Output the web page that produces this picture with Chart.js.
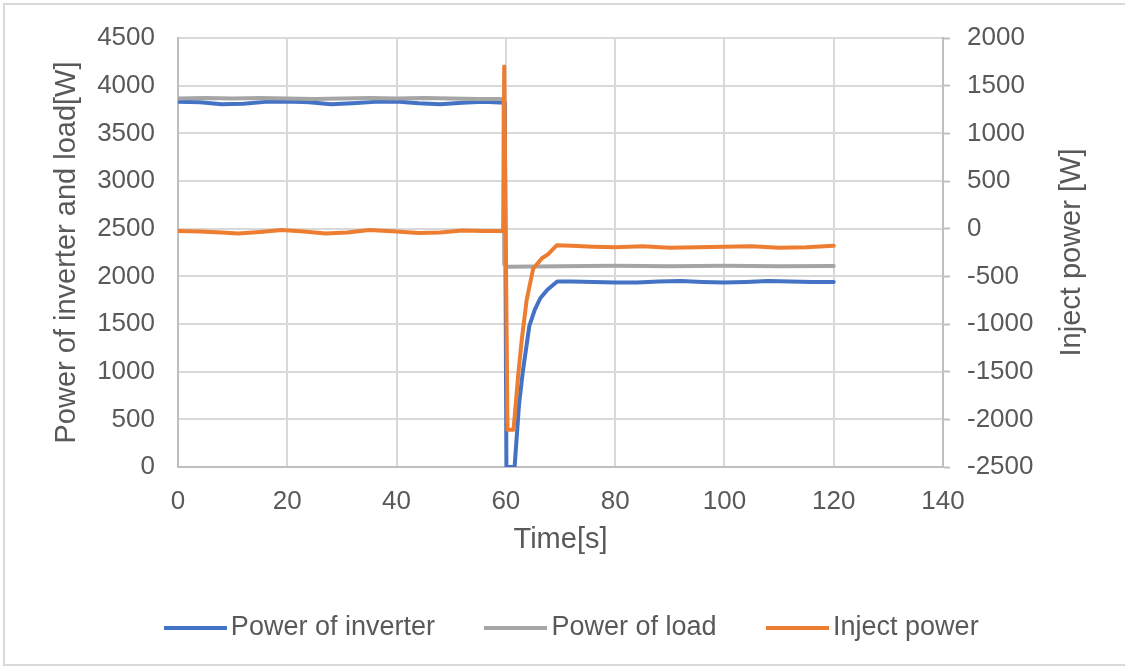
<!DOCTYPE html>
<html lang="en">
<head>
    <meta charset="UTF-8">
    <title>Inverter / load / inject power</title>
    <style>
        body {
            margin: 0;
            padding: 0;
            background-color: #fff;
            overflow: hidden;
        }

        .frame {
            position: absolute;
            left: 3px;
            top: 3px;
            width: 1130px;
            height: 659px;
            border: 2px solid #d9d9d9;
            border-right: none;
        }

        #powerChart {
            display: block;
        }
    </style>
</head>
<body>

    <div class="frame">
        <canvas id="powerChart" width="1120" height="659"></canvas>
    </div>

    <script src="https://cdn.jsdelivr.net/npm/chart.js"></script>

    <script>
        // Power of inverter [W]
        const invTime  = [0, 4, 8, 12, 16, 20, 24, 28, 32, 36, 40, 44, 48, 52, 56, 59.8,
                          60.1, 61.6, 62.4, 63.1, 64.3, 65.3, 66.3, 67.6, 69.4, 72, 76, 80,
                          84, 88, 92, 96, 100, 104, 108, 112, 116, 120];
        const invPower = [3830, 3825, 3805, 3810, 3830, 3835, 3825, 3805, 3815, 3830, 3835, 3815, 3805, 3820, 3830, 3820,
                          0, 0, 650, 1000, 1480, 1650, 1770, 1860, 1945, 1945, 1940, 1935,
                          1935, 1945, 1950, 1940, 1935, 1940, 1950, 1945, 1940, 1940];

        // Power of load [W]
        const loadTime  = [0, 5, 10, 15, 20, 25, 30, 35, 40, 45, 50, 55, 59.6,
                           59.7, 60.3, 70, 80, 90, 100, 110, 120];
        const loadPower = [3865, 3870, 3865, 3870, 3865, 3860, 3865, 3870, 3865, 3870, 3865, 3860, 3860,
                           2125, 2100, 2105, 2110, 2105, 2110, 2105, 2108];

        // Inject power [W] (right axis)
        const injTime  = [0, 4, 8, 11, 15, 19, 23, 27, 31, 35, 40, 44, 48, 52, 56, 59.5,
                          59.7, 60.3, 61.4, 62.3, 62.9, 63.8, 65, 66.6, 67.7, 69.3,
                          72, 76, 80, 85, 90, 95, 100, 105, 110, 115, 120];
        const injPower = [-25, -30, -40, -50, -35, -15, -30, -50, -40, -15, -30, -45, -40, -20, -25, -25,
                          1700, -2110, -2110, -1510, -1170, -750, -420, -310, -270, -175,
                          -180, -190, -195, -185, -200, -195, -190, -185, -200, -195, -180];

        const xTicks = [0, 20, 40, 60, 80, 100, 120, 140];

        const textColor = '#595959';
        const gridColor = '#d9d9d9';
        const axisColor = '#bfbfbf';
        const fontFamily = "'Liberation Sans', Arial, sans-serif";

        function toPoints(xs, ys) {
            return xs.map((x, i) => ({ x: x, y: ys[i] }));
        }

        // legend swatch: a plain stroke that runs close up to the label text
        function legendLine(color) {
            const c = document.createElement('canvas');
            c.width = 63;
            c.height = 4;
            const g = c.getContext('2d');
            g.fillStyle = color;
            g.fillRect(0, 0, c.width, c.height);
            return c;
        }

        // right axis title reads bottom-to-top, so draw it by hand
        const rightTitle = {
            id: 'rightTitle',
            afterDraw(chart) {
                const ctx = chart.ctx;
                const area = chart.chartArea;
                ctx.save();
                ctx.translate(1067, (area.top + area.bottom) / 2);
                ctx.rotate(-Math.PI / 2);
                ctx.font = '29px ' + fontFamily;
                ctx.fillStyle = textColor;
                ctx.textAlign = 'center';
                ctx.textBaseline = 'middle';
                ctx.fillText('Inject power [W]', 0, 0);
                ctx.restore();
            }
        };

        const lineStyle = {
            pointRadius: 0,
            borderWidth: 4,
            tension: 0,
            borderJoinStyle: 'round',
            borderCapStyle: 'round'
        };

        const plainTick = v => String(v);

        const ctx = document.getElementById('powerChart').getContext('2d');
        const chart = new Chart(ctx, {
            type: 'line',
            data: {
                datasets: [
                    Object.assign({
                        label: 'Power of inverter',
                        data: toPoints(invTime, invPower),
                        borderColor: '#4472c4',
                        backgroundColor: '#4472c4',
                        pointStyle: legendLine('#4472c4'),
                        yAxisID: 'y',
                        order: 3
                    }, lineStyle),
                    Object.assign({
                        label: 'Power of load',
                        data: toPoints(loadTime, loadPower),
                        borderColor: '#a5a5a5',
                        backgroundColor: '#a5a5a5',
                        pointStyle: legendLine('#a5a5a5'),
                        yAxisID: 'y',
                        order: 2
                    }, lineStyle),
                    Object.assign({
                        label: 'Inject power',
                        data: toPoints(injTime, injPower),
                        borderColor: '#ed7d31',
                        backgroundColor: '#ed7d31',
                        pointStyle: legendLine('#ed7d31'),
                        yAxisID: 'y2',
                        order: 1
                    }, lineStyle)
                ]
            },
            options: {
                responsive: false,
                devicePixelRatio: 1,
                animation: false,
                layout: {
                    padding: { top: 33, left: 22, right: 0, bottom: 13 }
                },
                plugins: {
                    tooltip: { enabled: false },
                    legend: {
                        position: 'bottom',
                        labels: {
                            usePointStyle: true,
                            pointStyleWidth: 44,
                            padding: 59,
                            color: textColor,
                            font: { family: fontFamily, size: 27 },
                            sort: (a, b) => a.datasetIndex - b.datasetIndex
                        }
                    }
                },
                scales: {
                    x: {
                        type: 'linear',
                        min: 0,
                        max: 140,
                        afterBuildTicks: s => { s.ticks = xTicks.map(v => ({ value: v })); },
                        afterFit: s => { s.height = 88; },
                        grid: { color: gridColor, lineWidth: 2, drawTicks: false },
                        border: { color: axisColor, width: 2 },
                        ticks: {
                            padding: 19,
                            color: textColor,
                            maxRotation: 0,
                            callback: plainTick,
                            font: { family: fontFamily, size: 26 }
                        },
                        title: {
                            display: true,
                            text: 'Time[s]',
                            color: textColor,
                            padding: { top: 0, bottom: -2 },
                            font: { family: fontFamily, size: 29 }
                        }
                    },
                    y: {
                        position: 'left',
                        min: 0,
                        max: 4500,
                        afterFit: s => { s.width = 151; },
                        grid: {
                            color: gridColor,
                            lineWidth: 2,
                            drawTicks: true,
                            tickLength: 23,
                            tickColor: 'rgba(0,0,0,0)'
                        },
                        border: { color: axisColor, width: 2 },
                        ticks: {
                            stepSize: 500,
                            padding: 0,
                            color: textColor,
                            callback: plainTick,
                            font: { family: fontFamily, size: 26 }
                        },
                        title: {
                            display: true,
                            text: 'Power of inverter and load[W]',
                            color: textColor,
                            padding: { top: 23, bottom: 0 },
                            font: { family: fontFamily, size: 29 }
                        }
                    },
                    y2: {
                        position: 'right',
                        min: -2500,
                        max: 2000,
                        afterFit: s => { s.width = 182; },
                        grid: {
                            drawOnChartArea: false,
                            drawTicks: true,
                            tickLength: 7,
                            tickWidth: 2,
                            tickColor: axisColor
                        },
                        border: { color: axisColor, width: 2 },
                        ticks: {
                            stepSize: 500,
                            padding: 17,
                            color: textColor,
                            callback: plainTick,
                            font: { family: fontFamily, size: 26 }
                        }
                    }
                }
            },
            plugins: [rightTitle]
        });
    </script>
</body>
</html>
